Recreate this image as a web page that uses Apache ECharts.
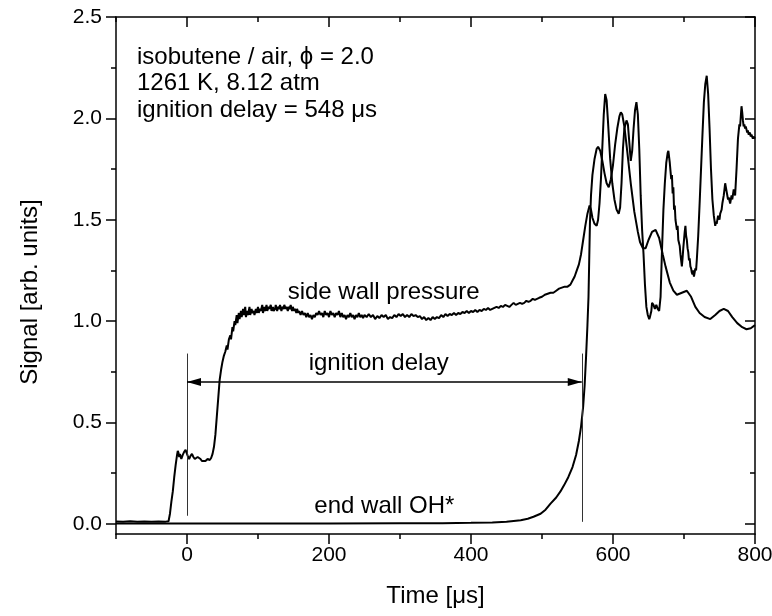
<!DOCTYPE html>
<html>
<head>
<meta charset="utf-8">
<script src="https://cdn.jsdelivr.net/npm/echarts@6/dist/echarts.min.js"></script>
<style>html,body{margin:0;padding:0;background:#fff}#c{width:772px;height:616px}</style>
</head>
<body>
<div id="c"></div>
<script>
// ---- data ----
const xTicksMajor = [0, 200, 400, 600, 800];
const xTicksMinor = [-100, 100, 300, 500, 700];
const yTicksMajor = [0, 0.5, 1.0, 1.5, 2.0, 2.5];
const yTicksMinor = [0.25, 0.75, 1.25, 1.75, 2.25];

const pressurePoints = [
[-100,0.012],[-90,0.010],[-80,0.013],[-70,0.011],[-60,0.012],[-50,0.010],[-40,0.012],[-30,0.011],[-26,0.013],
[-24,0.05],[-22,0.11],[-20,0.16],[-18,0.23],[-16,0.29],[-14,0.34],[-13,0.36],[-12,0.35],[-11,0.33],[-10,0.345],[-9,0.34],[-8,0.32],[-6,0.34],[-4,0.355],[-2,0.365],[-1,0.36],[1,0.335],[3,0.32],[5,0.335],[7,0.345],[9,0.33],[11,0.32],[13,0.315],[15,0.33],[17,0.335],[19,0.32],[21,0.31],[23,0.315],[26,0.31],[29,0.32],[32,0.315],[34,0.325],[36,0.345],[38,0.38],[40,0.44],[42,0.53],[44,0.62],[46,0.71],[48,0.76],[50,0.80],[52,0.83],[54,0.85],[56,0.88],[57,0.86],[59,0.91],[61,0.93],[62,0.91],[64,0.97],[65,0.95],[67,1.00],[68,0.98],[70,1.03],[71,0.99],[73,1.04],[74,1.01],[76,1.05],[77,1.02],[79,1.06],[80,1.03],[82,1.07],[83,1.02],[85,1.05],[86,1.03],[88,1.07],[89,1.03],[91,1.06],[92,1.04],[94,1.05],[95,1.03],[97,1.06],[98,1.04],[100,1.07],[101,1.04],[103,1.06],[104,1.05],[106,1.08],[107,1.04],[109,1.07],[110,1.05],[112,1.08],[113,1.05],[115,1.07],[116,1.06],[118,1.08],[119,1.05],[121,1.07],[122,1.05],[124,1.06],[125,1.08],[127,1.05],[128,1.07],[130,1.06],[131,1.08],[133,1.05],[134,1.07],[136,1.06],[137,1.08],[139,1.06],[140,1.07],[142,1.05],[143,1.07],[145,1.06],[146,1.08],[148,1.05],[149,1.07],[151,1.05],[152,1.06],[154,1.04],[155,1.06],[157,1.04],[158,1.05],[160,1.03],[162,1.05],[164,1.03],[166,1.04],[168,1.02],[170,1.04],[172,1.02],[174,1.03],[176,1.01],[178,1.03],[180,1.02],[182,1.04],[184,1.03],[186,1.05],[188,1.03],[190,1.04],[192,1.02],[194,1.05],[196,1.03],[198,1.04],[200,1.02],[202,1.05],[204,1.03],[206,1.04],[208,1.02],[210,1.04],[212,1.03],[214,1.05],[216,1.02],[218,1.04],[220,1.02],[222,1.03],[224,1.01],[226,1.03],[228,1.02],[230,1.04],[232,1.02],[234,1.03],[236,1.01],[238,1.03],[240,1.02],[242,1.04],[244,1.02],[246,1.03],[248,1.015],[250,1.03],[253,1.02],[256,1.035],[259,1.02],[262,1.03],[265,1.01],[268,1.025],[271,1.015],[274,1.03],[277,1.02],[280,1.03],[283,1.01],[286,1.02],[289,1.015],[292,1.03],[295,1.02],[298,1.035],[301,1.025],[304,1.035],[307,1.02],[310,1.03],[313,1.02],[316,1.035],[319,1.025],[322,1.03],[325,1.02],[328,1.025],[331,1.01],[334,1.02],[337,1.005],[340,1.015],[343,1.005],[346,1.02],[349,1.01],[352,1.02],[355,1.015],[358,1.03],[361,1.02],[364,1.035],[367,1.025],[370,1.035],[373,1.03],[376,1.04],[379,1.03],[382,1.04],[385,1.035],[388,1.045],[391,1.04],[394,1.05],[397,1.04],[400,1.05],[403,1.045],[406,1.055],[409,1.045],[412,1.055],[415,1.05],[418,1.06],[421,1.055],[424,1.065],[427,1.055],[430,1.06],[433,1.065],[436,1.07],[439,1.065],[442,1.075],[445,1.07],[448,1.08],[451,1.075],[454,1.07],[457,1.08],[460,1.09],[463,1.08],[466,1.085],[469,1.09],[472,1.085],[475,1.09],[478,1.10],[481,1.095],[484,1.10],[487,1.11],[490,1.105],[493,1.11],[496,1.115],[500,1.12],[504,1.13],[508,1.135],[512,1.14],[516,1.14],[520,1.15],[524,1.16],[528,1.165],[532,1.17],[536,1.17],[540,1.18],[543,1.20],[546,1.22],[549,1.25],[552,1.28],[555,1.33],[558,1.40],[561,1.47],[564,1.53],[567,1.57],[569,1.55],[571,1.51],[574,1.48],[577,1.47],[579,1.50],[581,1.58],[583,1.70],[585,1.86],[587,2.02],[589,2.12],[591,2.09],[593,1.98],[596,1.80],[599,1.68],[602,1.60],[605,1.55],[608,1.53],[610,1.56],[612,1.68],[614,1.85],[616,1.95],[619,1.99],[621,1.97],[623,1.88],[625,1.79],[627,1.84],[629,1.95],[631,2.04],[633,2.08],[635,2.02],[637,1.85],[639,1.62],[641,1.45],[643,1.33],[645,1.18],[647,1.07],[649,1.03],[651,1.01],[652,1.02],[654,1.05],[655,1.09],[657,1.08],[659,1.06],[661,1.08],[663,1.06],[665,1.05],[667,1.12],[669,1.35],[671,1.55],[673,1.68],[675,1.78],[677,1.83],[678,1.84],[680,1.78],[681,1.74],[682,1.70],[683,1.72],[684,1.63],[685,1.66],[686,1.55],[687,1.57],[688,1.50],[690,1.45],[691,1.47],[692,1.40],[694,1.37],[695,1.33],[696,1.30],[697,1.27],[698,1.31],[699,1.36],[701,1.44],[702,1.47],[703,1.42],[704,1.40],[705,1.36],[706,1.34],[707,1.30],[708,1.31],[709,1.27],[710,1.26],[711,1.24],[712,1.23],[713,1.25],[714,1.22],[715,1.24],[716,1.26],[717,1.25],[718,1.30],[720,1.42],[722,1.58],[724,1.75],[726,1.92],[728,2.08],[730,2.17],[732,2.21],[734,2.12],[736,1.95],[738,1.75],[740,1.60],[742,1.52],[744,1.47],[745,1.49],[746,1.48],[748,1.52],[750,1.50],[751,1.53],[753,1.55],[754,1.58],[756,1.62],[758,1.68],[759,1.66],[760,1.64],[762,1.60],[763,1.61],[765,1.58],[767,1.62],[768,1.60],[770,1.65],[772,1.62],[774,1.75],[776,1.90],[778,1.97],[779,1.96],[781,2.06],[782,2.03],[783,1.99],[784,1.96],[785,1.97],[786,1.95],[787,1.96],[789,1.93],[790,1.94],[791,1.92],[793,1.93],[794,1.91],[795,1.92],[797,1.90],[798,1.91],[800,1.90]
];

const ohPoints = [
[-100,0.002],[-50,0.002],[0,0.002],[100,0.002],[200,0.002],[300,0.003],[360,0.003],[400,0.005],[430,0.007],[450,0.010],[470,0.018],[480,0.025],[488,0.035],[498,0.05],[505,0.07],[512,0.10],[520,0.13],[526,0.16],[531,0.19],[537,0.23],[543,0.28],[548,0.34],[552,0.41],[555,0.48],[558,0.58],[560,0.68],[562,0.82],[564,0.98],[565.5,1.12],[566.5,1.30],[567.5,1.48],[569,1.62],[571,1.72],[574,1.80],[577,1.85],[579,1.86],[582,1.84],[585,1.79],[588,1.73],[591,1.68],[594,1.66],[597,1.70],[600,1.77],[603,1.87],[606,1.95],[609,2.01],[611,2.03],[613,2.02],[616,1.96],[620,1.84],[625,1.68],[630,1.54],[635,1.44],[638,1.39],[642,1.36],[646,1.36],[650,1.40],[655,1.44],[660,1.45],[665,1.41],[670,1.33],[674,1.27],[680,1.19],[685,1.15],[690,1.13],[697,1.14],[704,1.15],[710,1.12],[716,1.07],[722,1.04],[729,1.02],[737,1.01],[744,1.03],[750,1.05],[756,1.06],[762,1.05],[768,1.02],[775,0.99],[782,0.97],[788,0.96],[794,0.965],[800,0.98]
];

// ignition delay markers (time, µs) and their vertical extents (signal units)
const markerTimes = [0, 556];
const markerTops = [0.84, 0.84];
const markerBottoms = [0.04, 0.01];
const arrowLevel = 0.70;

const curveLabels = ['side wall pressure', 'ignition delay', 'end wall OH*'];
const infoLines = ['isobutene / air, \u03D5 = 2.0', '1261 K, 8.12 atm', 'ignition delay = 548 \u03BCs'];
const axisTitles = ['Time [\u03BCs]', 'Signal [arb. units]'];

// ---- chart ----
const FONT = "'Liberation Sans', Arial, sans-serif";
const axisLineStyle = { color: '#000', width: 1.5 };

function xAxis(position, ticks, len, inside, withLabels, name) {
  return {
    type: 'value', position: position, min: -100, max: 800,
    axisLine: { show: withLabels !== null, onZero: false, lineStyle: axisLineStyle },
    axisTick: { show: true, inside: inside, length: len, customValues: ticks, lineStyle: { color: '#000', width: 1.5 } },
    axisLabel: withLabels ? { show: true, customValues: ticks, color: '#000', fontSize: 21, fontFamily: FONT, margin: 11 } : { show: false },
    splitLine: { show: false },
    name: name || '', nameLocation: 'middle', nameGap: 50,
    nameTextStyle: { color: '#000', fontSize: 24, fontFamily: FONT }
  };
}
function yAxis(position, ticks, len, inside, withLabels) {
  return {
    type: 'value', position: position, min: -0.05, max: 2.5,
    axisLine: { show: withLabels !== null, onZero: false, lineStyle: axisLineStyle },
    axisTick: { show: true, inside: inside, length: len, customValues: ticks, lineStyle: { color: '#000', width: 1.5 } },
    axisLabel: withLabels ? { show: true, customValues: ticks, color: '#000', fontSize: 21, fontFamily: FONT, margin: 14,
      formatter: function (v) { return v.toFixed(1); } } : { show: false },
    splitLine: { show: false }
  };
}

const option = {
  animation: false,
  backgroundColor: '#fff',
  grid: { left: 116, right: 17, top: 17, bottom: 82, containLabel: false, outerBoundsMode: 'none' },
  xAxis: [
    xAxis('bottom', xTicksMajor, 10, false, true, axisTitles[0]),
    xAxis('bottom', xTicksMinor, 5, false, null),
    xAxis('top', xTicksMajor, 10, true, false),
    xAxis('top', xTicksMinor, 5, true, null)
  ],
  yAxis: [
    yAxis('left', yTicksMajor, 10, false, true),
    yAxis('left', yTicksMinor, 5, false, null),
    yAxis('right', yTicksMajor, 10, true, false),
    yAxis('right', yTicksMinor, 5, true, null)
  ],
  series: [
    {
      name: curveLabels[0], type: 'line', xAxisIndex: 0, yAxisIndex: 0,
      data: pressurePoints, showSymbol: false, symbol: 'none',
      lineStyle: { color: '#000', width: 2 }, emphasis: { disabled: true }, silent: true,
      markLine: {
        silent: true, animation: false, label: { show: false },
        symbol: ['none', 'none'],
        lineStyle: { color: '#333', width: 1, type: 'solid' },
        emphasis: { disabled: true },
        data: [
          [{ coord: [markerTimes[0], markerTops[0]] }, { coord: [markerTimes[0], markerBottoms[0]] }],
          [{ coord: [markerTimes[1], markerTops[1]] }, { coord: [markerTimes[1], markerBottoms[1]] }],
          [
            { coord: [markerTimes[0], arrowLevel], symbol: 'triangle', symbolSize: [8, 14], symbolOffset: [0, 7], lineStyle: { color: '#000', width: 1.5, type: 'solid' } },
            { coord: [markerTimes[1], arrowLevel], symbol: 'triangle', symbolSize: [8, 14], symbolOffset: [0, 7], lineStyle: { color: '#000', width: 1.5, type: 'solid' } }
          ]
        ]
      },
      markPoint: {
        silent: true, animation: false, symbol: 'circle', symbolSize: 0,
        label: { show: true, position: 'inside', color: '#000', fontSize: 24, fontFamily: FONT,
          formatter: function (p) { return p.name; } },
        data: [
          { name: curveLabels[0], coord: [277, 1.14] },
          { name: curveLabels[1], coord: [270, 0.79] },
          { name: curveLabels[2], coord: [278, 0.085] }
        ]
      }
    },
    {
      name: curveLabels[2], type: 'line', xAxisIndex: 0, yAxisIndex: 0,
      data: ohPoints, showSymbol: false, symbol: 'none',
      lineStyle: { color: '#000', width: 2 }, emphasis: { disabled: true }, silent: true
    }
  ],
  graphic: [
    {
      type: 'text', left: 137, top: 44, silent: true,
      style: { text: infoLines.join('\n'), fill: '#000', fontSize: 24, fontFamily: FONT, lineHeight: 26.5 }
    },
    {
      type: 'text', x: 30, y: 292, rotation: Math.PI / 2, silent: true,
      style: { text: axisTitles[1], fill: '#000', fontSize: 24, fontFamily: FONT, align: 'center', verticalAlign: 'middle' }
    }
  ]
};

const chart = echarts.init(document.getElementById('c'), null, { renderer: 'canvas' });
chart.setOption(option);
</script>
</body>
</html>
